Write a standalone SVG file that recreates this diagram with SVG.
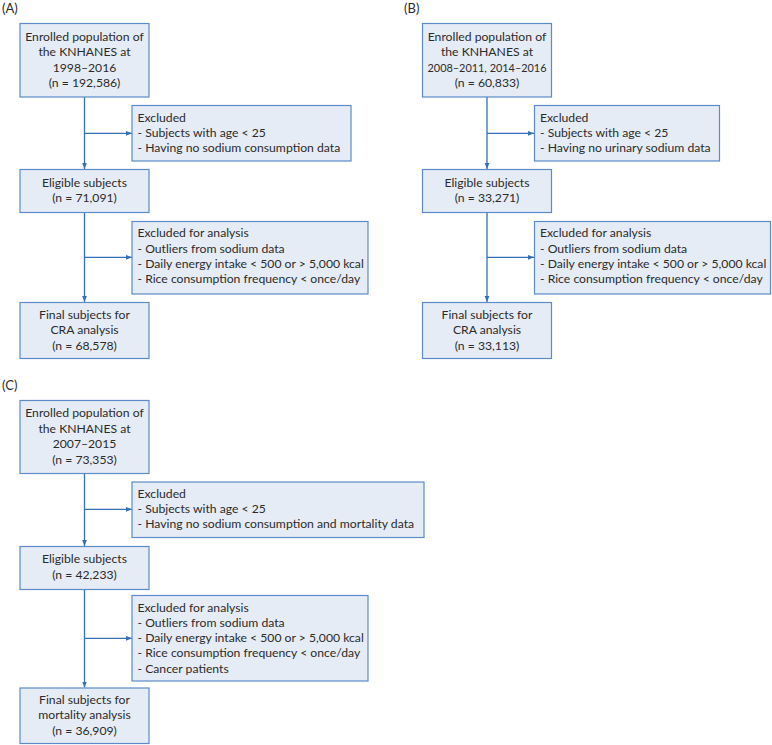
<svg xmlns="http://www.w3.org/2000/svg" width="772" height="745" viewBox="0 0 772 745">
<defs>
<style>
text{font-family:Lato,"Open Sans","Liberation Sans",sans-serif;font-size:12.2px;fill:#2b2b2b}
.c{text-anchor:middle}
.box{fill:#e6ecf5;stroke:#5b8cc8;stroke-width:1.2}
.ln{fill:none;stroke:#3470b6;stroke-width:1.3}
.lbl{font-size:13px}
</style>
<marker id="ah" viewBox="0 0 10 10" refX="10" refY="5" markerWidth="6" markerHeight="6" markerUnits="userSpaceOnUse" orient="auto">
<path d="M0,1 L10,5 L0,9 z" fill="#3470b6"/>
</marker>
</defs>
<rect width="772" height="745" fill="#ffffff"/>

<text class="lbl" x="2" y="13">(A)</text>
<text class="lbl" x="404" y="13">(B)</text>
<text class="lbl" x="2" y="390">(C)</text>

<g id="connectors">
<line class="ln" x1="84.5" y1="97" x2="84.5" y2="169" marker-end="url(#ah)"/>
<line class="ln" x1="84.5" y1="133.3" x2="132" y2="133.3" marker-end="url(#ah)"/>
<line class="ln" x1="84.5" y1="212.5" x2="84.5" y2="302" marker-end="url(#ah)"/>
<line class="ln" x1="84.5" y1="257.3" x2="132" y2="257.3" marker-end="url(#ah)"/>

<line class="ln" x1="487" y1="97" x2="487" y2="169" marker-end="url(#ah)"/>
<line class="ln" x1="487" y1="133.3" x2="534" y2="133.3" marker-end="url(#ah)"/>
<line class="ln" x1="487" y1="212.5" x2="487" y2="302" marker-end="url(#ah)"/>
<line class="ln" x1="487" y1="257.3" x2="534" y2="257.3" marker-end="url(#ah)"/>

<line class="ln" x1="84.5" y1="473.5" x2="84.5" y2="546" marker-end="url(#ah)"/>
<line class="ln" x1="84.5" y1="509.3" x2="132" y2="509.3" marker-end="url(#ah)"/>
<line class="ln" x1="84.5" y1="589.5" x2="84.5" y2="687.5" marker-end="url(#ah)"/>
<line class="ln" x1="84.5" y1="638.3" x2="132" y2="638.3" marker-end="url(#ah)"/>
</g>

<!-- Panel A -->
<g id="a-enrolled">
<rect class="box" x="20" y="23.5" width="129" height="73.5"/>
<text class="c" x="84.5" y="40.7">Enrolled population of</text>
<text class="c" x="84.5" y="56">the KNHANES at</text>
<text class="c" x="84.5" y="71.7">1998–2016</text>
<text class="c" x="84.5" y="87.3">(n = 192,586)</text>
</g>
<g id="a-excluded">
<rect class="box" x="132" y="105.5" width="219" height="55.5"/>
<text x="137.5" y="121.7">Excluded</text>
<text x="137.5" y="136.7">- Subjects with age &lt; 25</text>
<text x="137.5" y="151.7">- Having no sodium consumption data</text>
</g>
<g id="a-eligible">
<rect class="box" x="20" y="169.5" width="129" height="43"/>
<text class="c" x="84.5" y="186.7">Eligible subjects</text>
<text class="c" x="84.5" y="202.3">(n = 71,091)</text>
</g>
<g id="a-excluded-analysis">
<rect class="box" x="132" y="221.5" width="236" height="72.5"/>
<text x="137.5" y="237.3">Excluded for analysis</text>
<text x="137.5" y="252.7">- Outliers from sodium data</text>
<text x="137.5" y="267.7">- Daily energy intake &lt; 500 or &gt; 5,000 kcal</text>
<text x="137.5" y="283.3">- Rice consumption frequency &lt; once/day</text>
</g>
<g id="a-final">
<rect class="box" x="20" y="302.5" width="129" height="56"/>
<text class="c" x="84.5" y="319">Final subjects for</text>
<text class="c" x="84.5" y="334.3">CRA analysis</text>
<text class="c" x="84.5" y="349.5">(n = 68,578)</text>
</g>

<!-- Panel B -->
<g id="b-enrolled">
<rect class="box" x="422.5" y="23.5" width="129" height="73.5"/>
<text class="c" x="487" y="40.7">Enrolled population of</text>
<text class="c" x="487" y="56">the KNHANES at</text>
<text class="c" x="487" y="71.7" textLength="119" lengthAdjust="spacingAndGlyphs">2008–2011, 2014–2016</text>
<text class="c" x="487" y="87.3">(n = 60,833)</text>
</g>
<g id="b-excluded">
<rect class="box" x="534.5" y="105.5" width="185" height="55.5"/>
<text x="540" y="121.7">Excluded</text>
<text x="540" y="136.7">- Subjects with age &lt; 25</text>
<text x="540" y="151.7">- Having no urinary sodium data</text>
</g>
<g id="b-eligible">
<rect class="box" x="422.5" y="169.5" width="129" height="43"/>
<text class="c" x="487" y="186.7">Eligible subjects</text>
<text class="c" x="487" y="202.3">(n = 33,271)</text>
</g>
<g id="b-excluded-analysis">
<rect class="box" x="534.5" y="221.5" width="236" height="72.5"/>
<text x="540" y="237.3">Excluded for analysis</text>
<text x="540" y="252.7">- Outliers from sodium data</text>
<text x="540" y="267.7">- Daily energy intake &lt; 500 or &gt; 5,000 kcal</text>
<text x="540" y="283.3">- Rice consumption frequency &lt; once/day</text>
</g>
<g id="b-final">
<rect class="box" x="422.5" y="302.5" width="129" height="56"/>
<text class="c" x="487" y="319">Final subjects for</text>
<text class="c" x="487" y="334.3">CRA analysis</text>
<text class="c" x="487" y="349.5">(n = 33,113)</text>
</g>

<!-- Panel C -->
<g id="c-enrolled">
<rect class="box" x="20" y="400.5" width="129" height="73"/>
<text class="c" x="84.5" y="417.3">Enrolled population of</text>
<text class="c" x="84.5" y="432.7">the KNHANES at</text>
<text class="c" x="84.5" y="448.3">2007–2015</text>
<text class="c" x="84.5" y="464">(n = 73,353)</text>
</g>
<g id="c-excluded">
<rect class="box" x="132" y="482" width="292" height="55.5"/>
<text x="137.5" y="498.3">Excluded</text>
<text x="137.5" y="513.3">- Subjects with age &lt; 25</text>
<text x="137.5" y="528.3">- Having no sodium consumption and mortality data</text>
</g>
<g id="c-eligible">
<rect class="box" x="20" y="546.5" width="129" height="43"/>
<text class="c" x="84.5" y="563.3">Eligible subjects</text>
<text class="c" x="84.5" y="579">(n = 42,233)</text>
</g>
<g id="c-excluded-analysis">
<rect class="box" x="132" y="595.5" width="236" height="85.5"/>
<text x="137.5" y="611.7">Excluded for analysis</text>
<text x="137.5" y="626.7">- Outliers from sodium data</text>
<text x="137.5" y="642.3">- Daily energy intake &lt; 500 or &gt; 5,000 kcal</text>
<text x="137.5" y="657.3">- Rice consumption frequency &lt; once/day</text>
<text x="137.5" y="672.7">- Cancer patients</text>
</g>
<g id="c-final">
<rect class="box" x="20" y="688" width="129" height="55.5"/>
<text class="c" x="84.5" y="704">Final subjects for</text>
<text class="c" x="84.5" y="719.3">mortality analysis</text>
<text class="c" x="84.5" y="734.7">(n = 36,909)</text>
</g>
</svg>
